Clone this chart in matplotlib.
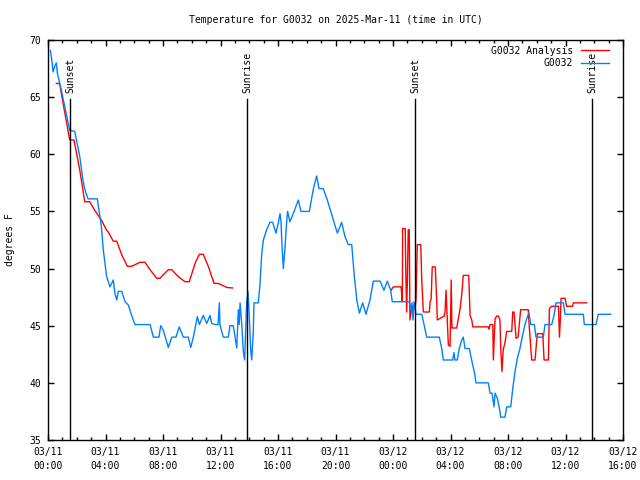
import matplotlib
matplotlib.use("Agg")
import matplotlib.pyplot as plt
import matplotlib.dates as mdates
import numpy as np
import pandas as pd

# ' Data (hours after 03/11 00:00 UTC, degrees F)
START = pd.Timestamp("2025-03-11 00:00")

obs_hours = [0.16, 0.28, 0.35, 0.47, 0.58, 0.65, 0.93, 1.16, 1.51, 1.86, 2.21, 2.43, 2.55, 2.78,
             3.43, 3.71, 3.85, 4.08, 4.31, 4.54, 4.66, 4.78, 4.89, 5.13, 5.36, 5.59, 5.82, 6.05,
             7.10, 7.33, 7.72, 7.84, 8.02, 8.37, 8.61, 8.90, 9.13, 9.41, 9.76, 9.93, 10.11, 10.39,
             10.53, 10.80, 11.04, 11.27, 11.39, 11.62, 11.83, 11.92, 11.96, 12.19, 12.54, 12.66,
             12.89, 13.01, 13.13, 13.24, 13.30, 13.36, 13.48, 13.59, 13.68, 13.82, 13.91, 14.00,
             14.10, 14.17, 14.28, 14.33, 14.63, 14.75, 14.87, 14.98, 15.21, 15.44, 15.63, 15.86,
             16.02, 16.14, 16.21, 16.26, 16.37, 16.49, 16.61, 16.67, 16.83, 17.06, 17.41, 17.60,
             18.18, 18.34, 18.50, 18.69, 18.85, 19.15, 19.43, 19.85, 20.13, 20.43, 20.66, 20.89,
             21.13, 21.29, 21.48, 21.66, 21.89, 22.12, 22.40, 22.63, 23.10, 23.37, 23.60, 23.84,
             23.95, 25.13, 25.23, 25.32, 25.39, 25.46, 25.60, 26.00, 26.16, 26.34, 27.22, 27.39,
             27.50, 28.15, 28.24, 28.31, 28.47, 28.61, 28.78, 28.89, 29.01, 29.31, 29.47, 29.70,
             29.77, 30.63, 30.75, 30.89, 31.03, 31.10, 31.26, 31.44, 31.49, 31.79, 31.91, 32.19,
             32.33, 32.49, 32.65, 32.83, 33.02, 33.18, 33.34, 33.46, 33.58, 33.83, 33.95, 34.46,
             34.57, 35.04, 35.20, 35.34, 35.85, 35.97, 37.24, 37.31, 38.12, 38.28, 39.14]
obs_temps = [69.1, 68.1, 67.2, 67.7, 68.0, 67.1, 65.6, 64.2, 62.1, 62.0, 59.8, 57.75, 57.0, 56.1,
             56.1, 53.7, 51.6, 49.3, 48.4, 49.0, 47.8, 47.25, 48.0, 48.0, 47.1, 46.8, 45.9, 45.1,
             45.1, 44.0, 44.0, 45.0, 44.6, 43.1, 44.0, 44.0, 44.9, 44.0, 44.0, 43.1, 44.0, 45.8,
             45.1, 45.9, 45.2, 45.9, 45.2, 45.1, 45.1, 47.0, 45.1, 44.0, 44.0, 45.0,
             45.0, 44.0, 43.05, 46.4, 45.1, 47.0, 45.1, 42.7, 42.0, 47.0, 48.0, 45.8,
             42.9, 42.0, 44.4, 47.0, 47.0, 48.7, 51.3, 52.5, 53.4, 54.05, 54.05, 53.1,
             54.0, 54.8, 54.1, 52.5, 50.0, 51.9, 54.25, 55.0, 54.1, 54.8, 56.0, 55.0,
             55.0, 56.15, 57.2, 58.1, 57.0, 57.0, 56.0, 54.25, 53.1, 54.05, 52.8, 52.1,
             52.1, 49.6, 47.25, 46.1, 47.0, 46.0, 47.25, 48.9, 48.9, 48.1, 48.9, 48.1,
             47.1, 47.1, 46.4, 47.0, 45.5, 47.1, 46.0, 46.0, 45.1, 44.0, 44.0, 43.0,
             42.0, 42.0, 42.65, 42.0, 42.0, 43.0, 43.75, 44.0, 43.0, 43.0, 42.0, 40.7,
             40.0, 40.0, 39.1, 39.1, 37.9, 39.1, 38.65, 37.5, 37.0, 37.0, 37.9, 37.9,
             39.5, 41.0, 42.15, 43.0, 44.2, 45.1, 45.75, 46.1, 45.1, 45.1, 44.0, 44.0,
             45.1, 45.1, 45.9, 47.0, 47.0, 46.0, 46.0, 45.1, 45.1, 46.0, 46.0]

ana_hours = [0.58, 0.81, 0.93, 1.51, 1.81, 2.21, 2.43, 2.55, 2.90, 3.25, 3.71, 4.06, 4.19, 4.54,
             4.78, 5.13, 5.52, 5.82, 6.40, 6.75, 7.10, 7.56, 7.79, 8.37, 8.61, 9.06, 9.53, 9.83,
             10.23, 10.53, 10.80, 11.15, 11.55, 11.85, 12.43, 12.85, 18.0,
             23.86, 24.02, 24.56, 24.65, 24.67, 24.85, 24.90, 24.95, 25.00, 25.06, 25.13, 25.18,
             25.30, 25.53, 25.60, 25.65, 25.69, 25.93, 26.00, 26.11, 26.53, 26.58, 26.65, 26.73,
             26.94, 27.04, 27.08, 27.50, 27.55, 27.62, 27.69, 27.85, 27.97, 28.05, 28.10, 28.15,
             28.43, 28.66, 28.78, 28.89, 29.27, 29.36, 29.48, 29.55, 30.63, 30.68, 30.75, 30.94,
             30.98, 31.10, 31.22, 31.33, 31.44, 31.49, 31.58, 31.67, 31.79, 31.91, 32.26, 32.33,
             32.42, 32.56, 32.70, 32.79, 32.88, 33.41, 33.48, 33.53, 33.65, 33.88, 34.04, 34.42,
             34.51, 34.81, 34.88, 35.04, 35.51, 35.58, 35.64, 35.69, 35.97, 36.08, 36.50, 36.54,
             37.48]
ana_temps = [66.2, 66.2, 65.3, 61.25, 61.25, 58.6, 56.9, 55.85, 55.85, 55.1, 54.25, 53.4, 53.2, 52.4,
             52.4, 51.2, 50.2, 50.2, 50.55, 50.55, 49.9, 49.15, 49.15, 49.9, 49.9, 49.3, 48.85, 48.85,
             50.45, 51.25, 51.25, 50.2, 48.7, 48.7, 48.35, 48.3, np.nan,
             48.1, 48.4, 48.4, 47.1, 53.5, 53.5, 49.0, 46.2, 49.0, 53.4, 53.4, 45.5,
             46.65, 46.65, 47.25, 49.9, 52.1, 52.1, 49.0, 46.2, 46.2, 47.1, 47.3, 50.15,
             50.15, 47.25, 45.5, 45.8, 45.8, 46.2, 48.1, 43.3, 43.2, 49.0, 44.8, 44.8,
             44.8, 46.4, 47.7, 49.4, 49.4, 45.9, 45.5, 44.9, 44.9, 44.7, 45.1, 45.1,
             42.0, 45.6, 45.85, 45.85, 45.5, 43.2, 41.0, 42.9, 43.5, 44.5, 44.5, 46.2,
             46.2, 43.9, 44.0, 45.2, 46.4, 46.4, 44.9, 44.0, 42.0, 42.0, 44.3, 44.3,
             42.0, 42.0, 46.5, 46.7, 46.7, 44.0, 45.5, 47.4, 47.4, 46.7, 46.7, 47.0,
             47.0]

sun_hours = [1.53, 13.84, 25.53, 37.84]
sun_labels = ["Sunset", "Sunrise", "Sunset", "Sunrise"]

TITLE = "Temperature for G0032 on 2025-Mar-11 (time in UTC)"
RED = "#ff0000"
BLUE = "#0080ff"
FONT = "DejaVu Sans Mono"
FS = 7


def to_time(hours):
    return START + pd.to_timedelta(np.asarray(hours, dtype=float), unit="h")


plt.rcParams["font.family"] = FONT
plt.rcParams["font.size"] = FS

fig = plt.figure(figsize=(6.4, 4.8), dpi=100)
ax = fig.add_axes([48 / 640, 40 / 480, 575 / 640, 400 / 480])

ax.plot(to_time(ana_hours), ana_temps, color=RED, lw=1.0, label="G0032 Analysis")
ax.plot(to_time(obs_hours), obs_temps, color=BLUE, lw=1.0, label="G0032")

# sunset / sunrise markers
for h, lab in zip(sun_hours, sun_labels):
    t = to_time([h])[0]
    ax.plot([t, t], [35, 64.8], color="black", lw=1.0)
    ax.text(t, 65.4, lab, rotation=90, ha="center", va="bottom", fontsize=FS)

ax.set_xlim(START, START + pd.Timedelta(hours=40))
ax.set_ylim(35, 70)
ax.set_yticks(np.arange(35, 71, 5))
ax.xaxis.set_major_locator(mdates.HourLocator(byhour=range(0, 24, 4)))
ax.xaxis.set_minor_locator(mdates.HourLocator())
ax.xaxis.set_major_formatter(mdates.DateFormatter("%m/%d\n%H:%M"))
for lab in ax.get_xticklabels():
    lab.set_linespacing(1.5)

ax.tick_params(which="both", direction="in", top=True, right=True, width=1.0)
ax.tick_params(which="major", length=4.5, pad=5)
ax.tick_params(which="minor", length=2.5)
for s in ax.spines.values():
    s.set_linewidth(1.0)

ax.set_ylabel("degrees F", labelpad=10)
ax.set_title(TITLE, fontsize=FS, pad=12)
ax.legend(loc="upper right", bbox_to_anchor=(1 - 8 / 575, 1.0), frameon=False,
          markerfirst=False, handlelength=2.9, borderaxespad=0.2, labelspacing=0.25,
          fontsize=FS)

fig.savefig("out.png", dpi=100)
